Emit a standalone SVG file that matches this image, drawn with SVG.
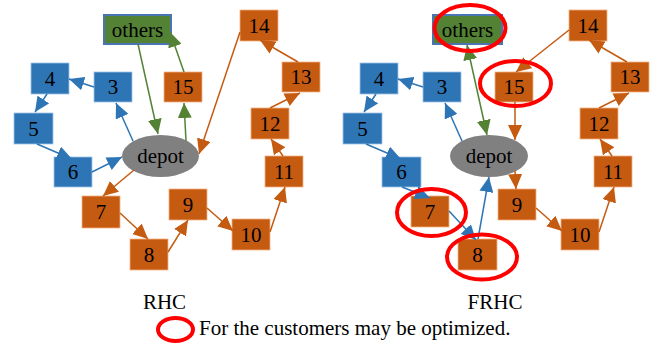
<svg xmlns="http://www.w3.org/2000/svg" width="657" height="344" viewBox="0 0 657 344">
  <style>
    .b { fill: #2E75B6; stroke: #9DC3E6; stroke-width: 0.8; }
    .o { fill: #C55A11; stroke: #F4B183; stroke-width: 0.8; }
    .g { fill: #548235; stroke: #4A75B5; stroke-width: 2; }
    .d { fill: #808080; }
    text { font-family: "Liberation Serif", "Times New Roman", serif; font-size: 21px; fill: #000; text-anchor: middle; }
    .lb { stroke: #2E75B6; stroke-width: 1.5; fill: none; marker-end: url(#ab); }
    .lo { stroke: #C55A11; stroke-width: 1.5; fill: none; marker-end: url(#ao); }
    .lg { stroke: #548235; stroke-width: 1.5; fill: none; marker-end: url(#ag); }
    .ring { fill: none; stroke: #FF0000; stroke-width: 4; }
  </style>
  <defs>
    <marker id="ab" markerUnits="userSpaceOnUse" markerWidth="15" markerHeight="14" refX="15" refY="7" orient="auto-start-reverse">
      <path d="M0,0 L15,7 L0,14 Z" fill="#2E75B6"/>
    </marker>
    <marker id="ao" markerUnits="userSpaceOnUse" markerWidth="15" markerHeight="14" refX="15" refY="7" orient="auto-start-reverse">
      <path d="M0,0 L15,7 L0,14 Z" fill="#C55A11"/>
    </marker>
    <marker id="ag" markerUnits="userSpaceOnUse" markerWidth="15" markerHeight="14" refX="15" refY="7" orient="auto-start-reverse">
      <path d="M0,0 L15,7 L0,14 Z" fill="#548235"/>
    </marker>
  </defs>

  <!-- RHC routes -->
  <g id="rhc-nodes">
    <g id="rhc-others"><rect class="g" x="104" y="15" width="67" height="29"/><text x="137.5" y="37">others</text></g>
    <g id="rhc-depot"><ellipse class="d" cx="160.5" cy="156" rx="38.5" ry="21"/><text x="160.5" y="163">depot</text></g>
    <g id="rhc-3"><rect class="b" x="94" y="72" width="38" height="30"/><text x="113" y="94">3</text></g>
    <g id="rhc-4"><rect class="b" x="31" y="63" width="38" height="31"/><text x="50" y="86">4</text></g>
    <g id="rhc-5"><rect class="b" x="14" y="113" width="39" height="31"/><text x="33.5" y="136">5</text></g>
    <g id="rhc-6"><rect class="b" x="54" y="157" width="38" height="30"/><text x="73" y="179">6</text></g>
    <g id="rhc-7"><rect class="o" x="82" y="196" width="38" height="32"/><text x="101" y="219">7</text></g>
    <g id="rhc-8"><rect class="o" x="130" y="239" width="38" height="31"/><text x="149" y="262">8</text></g>
    <g id="rhc-9"><rect class="o" x="169" y="189" width="38" height="31"/><text x="188" y="212">9</text></g>
    <g id="rhc-10"><rect class="o" x="232" y="219" width="38" height="31"/><text x="251" y="242">10</text></g>
    <g id="rhc-11"><rect class="o" x="265" y="156" width="38" height="31"/><text x="284" y="179">11</text></g>
    <g id="rhc-12"><rect class="o" x="251" y="108" width="38" height="31"/><text x="270" y="131">12</text></g>
    <g id="rhc-13"><rect class="o" x="282" y="62" width="38" height="30"/><text x="301" y="84">13</text></g>
    <g id="rhc-14"><rect class="o" x="240" y="10" width="38" height="31"/><text x="259" y="33">14</text></g>
    <g id="rhc-15"><rect class="o" x="164" y="72" width="38" height="30"/><text x="183" y="94">15</text></g>
  </g>
  <g id="rhc-connectors">
    <line class="lb" x1="133" y1="141" x2="116" y2="103"/>
    <line class="lb" x1="94" y1="87" x2="69" y2="79"/>
    <line class="lb" x1="47" y1="94" x2="35" y2="112"/>
    <line class="lb" x1="37" y1="144" x2="72" y2="159"/>
    <line class="lb" x1="92" y1="172" x2="122" y2="157"/>
    <line class="lg" x1="138" y1="44" x2="158" y2="134"/>
    <line class="lg" x1="184" y1="72" x2="170" y2="32"/>
    <line class="lg" x1="186" y1="141" x2="184" y2="103"/>
    <line class="lo" x1="240" y1="32" x2="199" y2="154"/>
    <line class="lo" x1="134" y1="170" x2="103" y2="196"/>
    <line class="lo" x1="120" y1="213" x2="148" y2="239"/>
    <line class="lo" x1="168" y1="252" x2="188" y2="220"/>
    <line class="lo" x1="207" y1="208" x2="233" y2="231"/>
    <line class="lo" x1="270" y1="232" x2="285" y2="187"/>
    <line class="lo" x1="283" y1="156" x2="271" y2="139"/>
    <line class="lo" x1="270" y1="108" x2="300" y2="93"/>
    <line class="lo" x1="298" y1="62" x2="260" y2="40"/>
  </g>

  <!-- FRHC routes -->
  <g id="frhc-nodes">
    <g id="frhc-others"><rect class="g" x="433" y="15" width="69" height="29"/><text x="467.5" y="37">others</text></g>
    <g id="frhc-depot"><ellipse class="d" cx="489" cy="156" rx="39" ry="21"/><text x="489" y="163">depot</text></g>
    <g id="frhc-3"><rect class="b" x="423" y="72" width="38" height="30"/><text x="442" y="94">3</text></g>
    <g id="frhc-4"><rect class="b" x="360" y="63" width="38" height="31"/><text x="379" y="86">4</text></g>
    <g id="frhc-5"><rect class="b" x="343" y="113" width="39" height="31"/><text x="362.5" y="136">5</text></g>
    <g id="frhc-6"><rect class="b" x="382" y="157" width="39" height="30"/><text x="401.5" y="179">6</text></g>
    <g id="frhc-7"><rect class="o" x="411" y="196" width="38" height="31"/><text x="430" y="219">7</text></g>
    <g id="frhc-8"><rect class="o" x="458" y="239" width="39" height="31"/><text x="477.5" y="262">8</text></g>
    <g id="frhc-9"><rect class="o" x="498" y="189" width="38" height="31"/><text x="517" y="212">9</text></g>
    <g id="frhc-10"><rect class="o" x="561" y="219" width="38" height="31"/><text x="580" y="242">10</text></g>
    <g id="frhc-11"><rect class="o" x="594" y="156" width="38" height="31"/><text x="613" y="179">11</text></g>
    <g id="frhc-12"><rect class="o" x="580" y="108" width="38" height="31"/><text x="599" y="131">12</text></g>
    <g id="frhc-13"><rect class="o" x="611" y="62" width="38" height="30"/><text x="630" y="84">13</text></g>
    <g id="frhc-14"><rect class="o" x="569" y="10" width="38" height="31"/><text x="588" y="33">14</text></g>
    <g id="frhc-15"><rect class="o" x="495" y="72" width="38" height="30"/><text x="514" y="94">15</text></g>
  </g>
  <g id="frhc-connectors">
    <line class="lb" x1="462" y1="141" x2="445" y2="103"/>
    <line class="lb" x1="423" y1="87" x2="398" y2="79"/>
    <line class="lb" x1="376" y1="94" x2="364" y2="112"/>
    <line class="lb" x1="366" y1="144" x2="401" y2="159"/>
    <line class="lb" x1="402" y1="187" x2="430" y2="198"/>
    <line class="lb" x1="449" y1="211" x2="476" y2="240"/>
    <line class="lb" x1="478" y1="239" x2="489" y2="177"/>
    <line class="lg" x1="467" y1="45" x2="487" y2="135" marker-start="url(#ag)"/>
    <line class="lo" x1="569" y1="30" x2="516" y2="72"/>
    <line class="lo" x1="515" y1="102" x2="515" y2="140"/>
    <line class="lo" x1="515" y1="171" x2="516" y2="189"/>
    <line class="lo" x1="536" y1="208" x2="562" y2="231"/>
    <line class="lo" x1="599" y1="232" x2="614" y2="187"/>
    <line class="lo" x1="612" y1="156" x2="600" y2="139"/>
    <line class="lo" x1="599" y1="108" x2="629" y2="93"/>
    <line class="lo" x1="627" y1="62" x2="589" y2="40"/>
  </g>

  <!-- highlight rings -->
  <g id="highlights">
    <ellipse class="ring" cx="470" cy="28" rx="35.5" ry="23"/>
    <ellipse class="ring" cx="515.5" cy="83.5" rx="35.5" ry="22.5"/>
    <ellipse class="ring" cx="431.5" cy="212.5" rx="34.5" ry="23.5"/>
    <ellipse class="ring" cx="482" cy="257" rx="35" ry="22.5"/>
  </g>

  <!-- captions and legend -->
  <g id="captions">
    <text x="164.5" y="309">RHC</text>
    <text x="495" y="309">FRHC</text>
    <ellipse class="ring" cx="175.5" cy="329.5" rx="17.5" ry="11.5"/>
    <text x="199" y="335" style="text-anchor:start">For the customers may be optimized.</text>
  </g>
</svg>
